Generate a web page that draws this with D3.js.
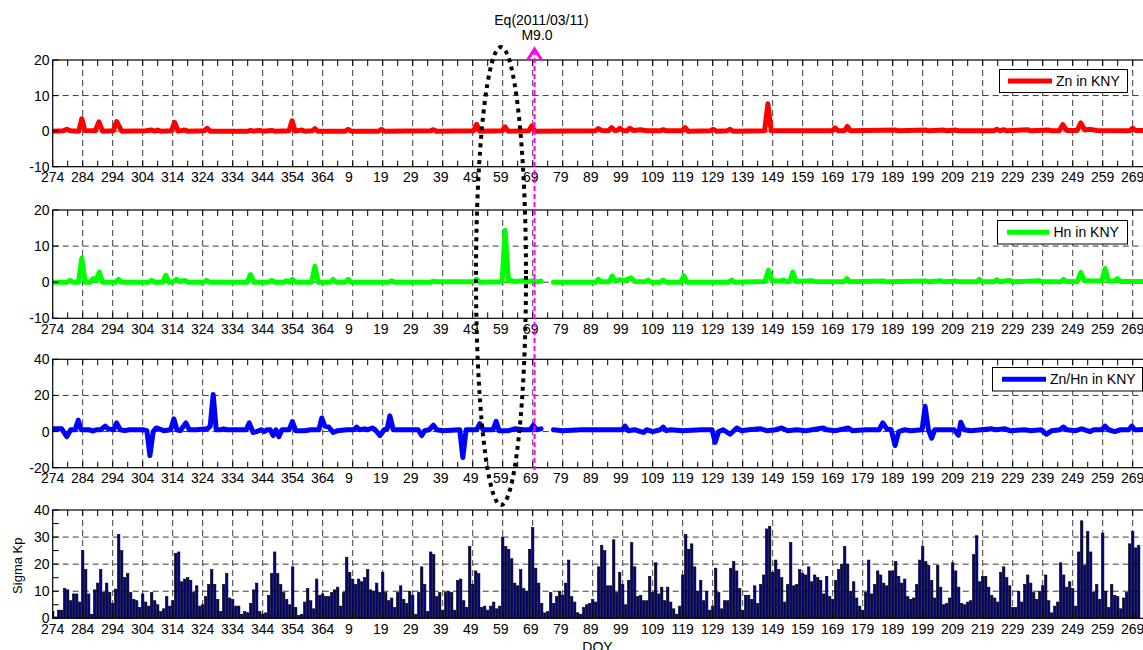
<!DOCTYPE html>
<html>
<head>
<meta charset="utf-8">
<script src="https://d3js.org/d3.v7.min.js"></script>
<style>
body { margin: 0; background: #fff; }
text { font-family: "Liberation Sans", Arial, sans-serif; fill: #000; }
</style>
</head>
<body>
<div id="chart"></div>
<script>
// Dias continuos: 274..365 = 2010, 366.. = 2011 (DOY = dia - 365)
const width = 1143;
const height = 650;

// Zn en KNY: [dia, valor]
const znPts = [[274,0],[277.5,0.1],[278.7,0.5],[280,0.1],[282.7,0],[283.7,3.5],[284.7,0.2],[288.2,0.1],[289.4,2.6],[290.6,0],[294.2,0.1],[295.3,2.7],[297,0],[305,0.1],[307,0.3],[308,0],[309,0.3],[310,0],[313.6,0.1],[314.6,2.5],[315.8,0],[318,0.3],[319,0],[324.5,0.1],[325.5,0.8],[326.5,0],[339,0],[340,0.2],[341,0],[343,0.2],[344,0],[347,0.2],[348,0],[352.8,0.1],[353.8,2.9],[354.8,0],[357,0.3],[358,0],[360.5,0.1],[361.4,0.7],[362.3,0],[371.5,0],[372.5,0.5],[373.5,0],[382.6,0],[383.6,0.5],[384.6,0],[399.9,0.1],[400.9,0.4],[401.9,0],[414.3,0.1],[415.3,1.9],[416.3,0],[423.8,0.1],[424.8,1.2],[425.8,0],[432.7,0.1],[433.7,1.5],[434.7,0],[454.9,0.1],[455.9,0.7],[456.9,0.2],[459.3,0.1],[460.3,1],[461.3,0.2],[462.1,0.2],[463.1,0.8],[464.1,0.2],[465.4,0.1],[466.4,0.8],[467.5,0.2],[470,0.4],[472,0.1],[476.5,0.1],[477.5,0.4],[478.5,0.1],[483.8,0.1],[484.8,1],[485.8,0],[493.2,0.1],[494.2,0.5],[495.2,0],[498.8,0.1],[499.8,0.5],[500.8,0],[511.3,0.1],[512.4,7.7],[513.5,0.1],[533.8,0.1],[534.8,0.9],[535.8,0.1],[537.9,0.1],[538.9,1.3],[539.9,0.1],[555,0.3],[556,0.1],[565,0.3],[566,0.1],[571,0.3],[572,0.1],[575,0.3],[576,0.1],[587.7,0.1],[588.7,0.5],[589.7,0.1],[591,0.4],[592,0.1],[599,0.4],[600,0.1],[606,0.3],[607,0.1],[609.5,0.1],[610.7,1.8],[612,0.2],[615.5,0.2],[616.7,2.3],[618,0.3],[620,0.5],[622,0.2],[633,0.1],[634,0.8],[635,0.2],[640,0.1]];

// Hn en KNY (null = sin datos)
const hnPts = [[274,0],[278.8,0],[279.8,0.5],[280.8,0],[282.6,0],[283.7,6.7],[284.8,0],[286.5,0],[287.5,1],[288.5,0.5],[289.5,2.8],[290.6,0],[295,0],[295.9,0.8],[297,0],[306,0],[307,0.5],[308,0],[310.7,0],[311.7,1.9],[312.7,0],[314.3,0.2],[315.3,0.8],[316.3,0.2],[318,0.5],[319,0],[324.3,0],[325.3,0.5],[326.3,0],[338.8,0],[339.9,2.1],[341,0],[346,0],[347,0.5],[348,0],[351,0],[352,0.4],[353,0],[353.9,0.8],[355,0],[360.3,0],[361.4,4.4],[362.5,0],[366.5,0],[367.5,0.8],[368.5,0],[371.5,0],[372.5,0.8],[373.5,0],[386,0],[387,0.4],[388,0],[400,0],[401,0.3],[402,0.1],[414.3,0.1],[415.3,0.8],[416.3,0],[423.8,0.1],[424.8,14.4],[425.9,0.3],[427,0.4],[428,0.2],[431,0.4],[432,0.2],[434.4,0.4],[435.5,0.1],[436.8,0.3],[438.8,null],[440.9,0],[454.9,0],[455.9,0.8],[456.9,0.1],[459.5,0.1],[460.5,1.7],[461.5,0.3],[463,0.7],[464.5,0.4],[466.7,1.2],[468,0.2],[471.5,0.1],[472.5,0.6],[473.5,0],[476.5,0],[477.5,0.6],[478.5,0],[483.4,0],[484.4,1.8],[485.4,0],[499.3,0],[500.3,0.6],[501.3,0],[511.4,0.2],[512.6,3.3],[513.8,0.3],[516.5,0.3],[517.5,0.6],[518.5,0.2],[519.7,0.2],[520.7,2.8],[521.7,0.2],[527,0.4],[528,0.2],[537.7,0.1],[538.7,1],[539.7,0.1],[551,0.3],[552,0.1],[565,0.3],[566,0.1],[570,0.4],[571,0.1],[575,0.3],[576,0.1],[581.9,0.1],[582.9,0.8],[583.9,0.1],[587.7,0.1],[588.7,0.7],[589.7,0.1],[593,0.5],[594,0.1],[603,0.4],[604,0.1],[609.9,0.1],[610.9,0.8],[611.9,0.2],[615.6,0.2],[616.7,2.7],[617.8,0.5],[620,0.4],[623.7,0.3],[624.8,3.8],[625.9,0.3],[627.9,0.3],[628.9,1],[630,0.2],[640,0.2]];

// Zn/Hn en KNY
const zhPts = [[274,1.5],[277,1.5],[278.7,-2.8],[280,1],[281.5,1],[282.5,6.3],[283.5,1],[286,1],[287.5,0.3],[288.5,1],[290,1],[291.5,3],[292.5,1.5],[294.3,1],[295.3,4.8],[296.5,1],[298,0.5],[299.5,1],[304,1],[305.4,0.5],[306.4,-13.3],[307.5,0],[308.5,2],[311,0.5],[313.3,1],[314.4,7],[315.4,1],[316.5,0.5],[318.4,4.8],[319.5,1],[322,1],[325.5,1.5],[326.5,3],[327.5,20.5],[328.5,1],[330,1],[331,1.5],[332,1],[338.5,1],[339.5,4.8],[340.8,-0.5],[342,0],[343.5,1],[344.5,0],[345.5,1],[346.5,1],[347.5,-2.2],[348.4,1],[349.4,-2.8],[350.4,1],[352.8,1],[353.9,5.5],[355,0.5],[358,0.5],[360,1],[362.7,1],[363.7,7.5],[364.7,3],[366,2.5],[367.5,-0.5],[369,0.5],[372,1],[374.3,1],[375.3,2.5],[376.3,1],[378,1.5],[379,1],[380.5,2],[381.5,1],[383.1,-2.2],[384.5,1],[385.5,1.5],[386.4,8.7],[387.5,1],[389,1],[395.8,1],[397,-2.2],[398,0.5],[399.5,1],[400.9,3.5],[402,1],[404,0.5],[409.7,1],[410.7,-14.4],[411.8,1],[415.3,1],[416.4,4.4],[417.5,1],[420.8,1],[421.8,5.7],[422.8,0.5],[426,0.5],[428,1.5],[431,1],[433.2,1],[434.2,3.5],[435.2,1],[436.8,1.5],[438.8,null],[440.9,1],[444,0.5],[450,1],[463.8,1],[464.8,3],[465.8,0.5],[468,1],[470,0],[470.9,-0.5],[472,1],[474,0],[476.5,1],[477.5,2.5],[478.5,0.5],[480,1],[484,0.5],[490,1],[493.8,1],[494.8,-6],[496,0],[497.5,1],[499.8,-1.5],[502,2],[503.5,0.5],[506,1],[510,1.5],[512,0.5],[515,1],[517,2],[519,0.5],[522,1],[525,0.5],[530.9,2],[532,1],[535,0.5],[539.2,2],[540.5,0.5],[545,1],[549.5,1],[550.7,4.8],[552,1.5],[553.5,1],[554.8,-7.7],[556,0],[558,1],[560,0.5],[563.8,1],[564.8,14],[565.9,1],[567,-3.7],[568,1],[574.5,1],[575.9,-2],[576.7,5.2],[577.8,1],[580,0.5],[587,1.5],[588.5,1],[591.5,1.5],[593,0.5],[598,1],[600,0.5],[603.5,1],[605.3,-1.5],[607,0.5],[609.8,1],[610.9,2.5],[612,1],[615,0.5],[617,1.5],[619.8,0],[621,1],[623.7,1],[624.8,3],[626,1],[628,0],[630,1],[632.7,1],[633.7,3],[634.7,1],[636,1],[640,1.5]];

// Sigma Kp diario, desde el dia 274 (2010) hasta el 636 (DOY 271 de 2011)
const kpStart = 274;
const kpValues = [
  2.5, 0.5, 3, 3, 11, 10.5, 6.5, 9, 9, 6,
  25, 18, 9, 1.5, 10.5, 13, 18, 9.5, 13, 9.5,
  5.5, 10.8, 31, 25, 15, 16.5, 9.5, 7, 6.5, 4,
  9, 6, 4.5, 9.5, 6.5, 5, 2.5, 3.5, 8, 4.5,
  6.5, 24, 24.5, 13.5, 14.5, 15, 14, 9.5, 12, 4.5,
  5, 8, 12.5, 18, 12.5, 7, 2.5, 12.5, 16.5, 7.5,
  7, 4.5, 4.5, 1.5, 2.5, 2, 5.5, 10.5, 13, 2.5,
  1.5, 2, 8.5, 16.5, 24.5, 16.5, 12.5, 9.5, 7, 5,
  19, 4, 1, 1.5, 6, 11, 6.5, 3.5, 14.5, 8.5,
  9, 8, 8, 9.5, 10.5, 11.5, 4.5, 9.5, 22.5, 17,
  14.5, 12.5, 14.5, 13.5, 15, 18, 10.5, 10, 13, 9.5,
  17, 9.5, 6.5, 7.5, 4, 9.5, 12, 7, 5.5, 10,
  8.5, 1.5, 9.5, 19, 12.5, 2.5, 24.5, 23.5, 8, 9.5,
  3, 9.5, 10, 9.5, 3, 14, 14.5, 6.5, 4, 26.5,
  12.5, 17.5, 16.5, 4, 4.5, 3, 4.5, 6, 3.5, 4.5,
  30, 26.5, 25.5, 22, 13, 12, 18, 11, 10, 25.5,
  33.5, 18.5, 13, 5.5, 2, 2.5, 9.5, 5.5, 8, 10,
  8.5, 13, 21.5, 8, 6, 2, 1.5, 4, 5, 5.5,
  7, 6, 19, 27, 25, 12, 12, 29, 9.5, 17,
  12.5, 5, 14, 28, 19, 8, 8.5, 6.5, 6.5, 15.5,
  9.5, 20.5, 9, 11.5, 6.5, 11.5, 6, 3.5, 1.5, 4.5,
  16, 31, 25.5, 27.5, 19, 10, 14, 6.5, 10, 3,
  4.5, 18.5, 9.5, 3.5, 6.5, 6.5, 18.5, 21, 17.5, 11,
  3, 8.5, 8.5, 7, 12, 5.5, 12.5, 16, 33, 34,
  17, 21.5,
  18, 15, 6, 12.5, 28, 12, 12.5, 18, 16.5, 16,
  19, 13.5, 16, 15, 14, 9, 15.5, 8, 7, 14,
  18, 20, 26.5, 20, 10, 13.5, 7.5, 4.5, 3, 9.5,
  21.5, 9, 12.5, 17.5, 16, 13, 12, 17.5, 17.5, 21,
  15.5, 13, 14.5, 8, 7, 7.5, 12.5, 21.5, 26.5, 21,
  19.5, 14, 7.5, 19.5, 11.5, 5, 5.5, 7.5, 20.5, 17.5,
  11.5, 5.5, 5, 6, 6.5, 23.5, 30.5, 13.5, 15.5, 15.5,
  11.5, 8.5, 7.5, 6, 17, 19, 15, 12, 4, 4,
  10, 6, 12.5, 16, 13, 9.5, 7, 10, 12, 16,
  6.5, 2, 4.5, 6, 20.5, 16, 11.5, 13.5, 11, 4.5,
  24.5, 36, 19.5, 32, 24.5, 9.5, 12.5, 7, 31.5, 10,
  4, 12.5, 8.5, 8, 3.5, 7.5, 9.5, 27.5, 32, 26,
  27
];

const eqDay = 434.6;   // 2011/03/11
const legendNames = ["Zn in KNY", "Hn in KNY", "Zn/Hn in KNY"];
const lineColors = ["#ff0000", "#00ff00", "#0000ff"];

const svg = d3.select("#chart").append("svg")
    .attr("width", width)
    .attr("height", height);

const x = d3.scaleLinear().domain([274, 640]).range([52.7, 1150.7]);
const xMajor = d3.range(274, 640, 10);
const xMinor = d3.range(274, 641, 5);

function doyLabel(d) { return String(d > 365 ? d - 365 : d); }

// paneles: top, bottom, dominio y ticks
const panels = [
    { top: 60, bottom: 166.7, domain: [-10, 20], ticks: [-10, 0, 10, 20], minor: [] },
    { top: 210, bottom: 318.3, domain: [-10, 20], ticks: [-10, 0, 10, 20], minor: [] },
    { top: 359.3, bottom: 467.7, domain: [-20, 40], ticks: [-20, 0, 20, 40], minor: [] },
    { top: 510, bottom: 618.3, domain: [0, 40], ticks: [0, 10, 20, 30, 40], minor: [5, 15, 25, 35] }
];

const series = [znPts, hnPts, zhPts];
const legendBoxes = [
    { x: 999.5, y: 69.5, w: 128, h: 23, lx: 1008, lx2: 1052, tx: 1056 },
    { x: 997.5, y: 220.5, w: 130, h: 23.5, lx: 1007, lx2: 1049, tx: 1053.5 },
    { x: 992.5, y: 367.5, w: 150, h: 23.5, lx: 1002, lx2: 1046, tx: 1050 }
];

panels.forEach((p, i) => {
    const y = d3.scaleLinear().domain(p.domain).range([p.bottom, p.top]);
    const g = svg.append("g");

    g.append("clipPath").attr("id", "clip" + i)
        .append("rect")
        .attr("x", x.range()[0]).attr("y", p.top)
        .attr("width", x.range()[1] - x.range()[0]).attr("height", p.bottom - p.top);

    // rejilla
    g.selectAll(".vgrid").data(xMajor.slice(1)).enter().append("line")
        .attr("x1", d => x(d)).attr("x2", d => x(d))
        .attr("y1", p.top).attr("y2", p.bottom)
        .attr("stroke", "#3a3a3a").attr("stroke-width", 1)
        .attr("stroke-dasharray", "6,4");
    g.selectAll(".hgrid").data(p.ticks.slice(1, -1)).enter().append("line")
        .attr("x1", x.range()[0]).attr("x2", x.range()[1])
        .attr("y1", d => y(d)).attr("y2", d => y(d))
        .attr("stroke", "#3a3a3a").attr("stroke-width", 1)
        .attr("stroke-dasharray", "6,4");

    const plot = g.append("g").attr("clip-path", `url(#clip${i})`);

    if (i < 3) {
        const line = d3.line()
            .defined(d => d[1] !== null)
            .x(d => x(d[0]))
            .y(d => y(d[1]));
        plot.append("path")
            .datum(series[i])
            .attr("d", line)
            .attr("fill", "none")
            .attr("stroke", lineColors[i])
            .attr("stroke-width", 5)
            .attr("stroke-linejoin", "round")
            .attr("stroke-linecap", "round");
    } else {
        const bw = (x(1) - x(0)) * 0.8;
        plot.selectAll("rect.kp").data(kpValues).enter().append("rect")
            .attr("class", "kp")
            .attr("x", (d, k) => x(kpStart + k) - bw / 2)
            .attr("y", d => y(d))
            .attr("width", bw)
            .attr("height", d => y(0) - y(d))
            .attr("fill", "#00007a")
            .attr("stroke", "#000")
            .attr("stroke-width", 0.6);
    }

    // ticks
    g.selectAll(".xt").data(xMinor).enter().append("path")
        .attr("d", d => `M${x(d)},${p.top}v6M${x(d)},${p.bottom}v-6`)
        .attr("stroke", "#000").attr("stroke-width", 1);
    g.selectAll(".yt").data(p.ticks.concat(p.minor)).enter().append("path")
        .attr("d", d => `M${x.range()[0]},${y(d)}h6M${x.range()[1]},${y(d)}h-6`)
        .attr("stroke", "#000").attr("stroke-width", 1);

    // marco
    g.append("rect")
        .attr("x", x.range()[0]).attr("y", p.top)
        .attr("width", x.range()[1] - x.range()[0]).attr("height", p.bottom - p.top)
        .attr("fill", "none").attr("stroke", "#000").attr("stroke-width", 1.2);

    // etiquetas
    g.selectAll(".xl").data(xMajor).enter().append("text")
        .attr("x", d => x(d) - (3 - doyLabel(d).length) * 1.95)
        .attr("y", p.bottom + 15.5)
        .attr("text-anchor", "middle")
        .attr("font-size", 14)
        .text(d => doyLabel(d));
    g.selectAll(".yl").data(p.ticks).enter().append("text")
        .attr("x", 49.5)
        .attr("y", d => y(d))
        .attr("dy", "0.36em")
        .attr("text-anchor", "end")
        .attr("font-size", 14)
        .text(d => d);

    // leyenda
    if (i < 3) {
        const lb = legendBoxes[i];
        const lg = g.append("g");
        lg.append("rect")
            .attr("x", lb.x).attr("y", lb.y).attr("width", lb.w).attr("height", lb.h)
            .attr("fill", "#fff").attr("stroke", "#000").attr("stroke-width", 1);
        lg.append("line")
            .attr("x1", lb.lx).attr("x2", lb.lx2)
            .attr("y1", lb.y + lb.h / 2).attr("y2", lb.y + lb.h / 2)
            .attr("stroke", lineColors[i]).attr("stroke-width", 5);
        lg.append("text")
            .attr("x", lb.tx).attr("y", lb.y + lb.h / 2)
            .attr("dy", "0.36em")
            .attr("font-size", 14)
            .text(legendNames[i]);
    }
});

// etiquetas de ejes
svg.append("text")
    .attr("transform", "translate(17.5,565.7) rotate(-90)")
    .attr("text-anchor", "middle")
    .attr("dy", "0.36em")
    .attr("font-size", 13)
    .text("Sigma Kp");
svg.append("text")
    .attr("x", 597.5).attr("y", 652)
    .attr("text-anchor", "middle")
    .attr("font-size", 14)
    .text("DOY");

// terremoto
const xe = x(eqDay);
svg.append("line")
    .attr("x1", xe).attr("x2", xe)
    .attr("y1", 50).attr("y2", 470)
    .attr("stroke", "#ff00ff").attr("stroke-width", 2)
    .attr("stroke-dasharray", "5,3");
svg.append("path")
    .attr("d", `M${xe - 7},${60}L${xe},${49}L${xe + 7},${60}`)
    .attr("fill", "none")
    .attr("stroke", "#ff00ff").attr("stroke-width", 3);
svg.append("text")
    .attr("x", 541.5).attr("y", 24.5)
    .attr("text-anchor", "middle").attr("font-size", 14)
    .text("Eq(2011/03/11)");
svg.append("text")
    .attr("x", 537).attr("y", 40)
    .attr("text-anchor", "middle").attr("font-size", 14)
    .text("M9.0");

// elipse punteada
svg.append("ellipse")
    .attr("cx", 501).attr("cy", 276)
    .attr("rx", 25).attr("ry", 229)
    .attr("fill", "none")
    .attr("stroke", "#000").attr("stroke-width", 4)
    .attr("stroke-dasharray", "4,4.5");
</script>
</body>
</html>
